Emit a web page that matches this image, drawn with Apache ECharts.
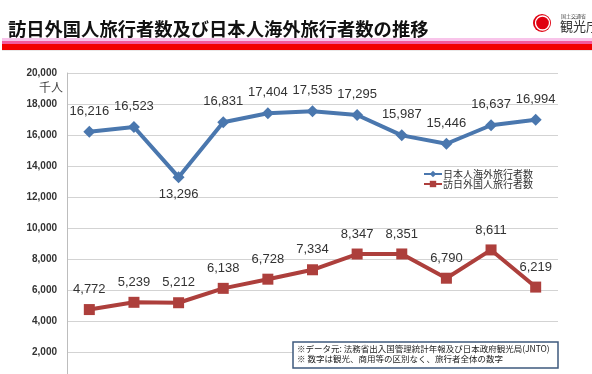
<!DOCTYPE html>
<html><head><meta charset="utf-8">
<script src="https://cdn.jsdelivr.net/npm/echarts@6/dist/echarts.min.js"></script>
<style>html,body{margin:0;padding:0;background:#fff;}#c{width:592px;height:374px;}</style>
</head><body><div id="c"></div>
<script>
var titleText = '訪日外国人旅行者数及び日本人海外旅行者数の推移';
var years = ['2001','2002','2003','2004','2005','2006','2007','2008','2009','2010','2011'];
var outboundName = '日本人海外旅行者数';
var inboundName = '訪日外国人旅行者数';
var outbound = [16216, 16523, 13296, 16831, 17404, 17535, 17295, 15987, 15446, 16637, 16994];
var inbound = [4772, 5239, 5212, 6138, 6728, 7334, 8347, 8351, 6790, 8611, 6219];
var unitText = '千人';
var noteLines = ['※データ元: 法務省出入国管理統計年報及び日本政府観光局(JNTO)', '※ 数字は観光、商用等の区別なく、旅行者全体の数字'];

var CJK = '"Noto Sans CJK JP", "Liberation Sans", sans-serif';
var fmt = function (v) { return Number(v).toLocaleString('en-US'); };
var chart = echarts.init(document.getElementById('c'), null, {renderer: 'canvas'});
chart.setOption({
  animation: false,
  backgroundColor: '#fff',
  grid: {left: 67, top: 73, width: 491, height: 310.7, containLabel: false, outerBoundsMode: 'none'},
  legend: {
    orient: 'vertical', left: 418, top: 164, itemWidth: 18, itemHeight: 8, itemGap: 0,
    textStyle: {fontSize: 10, color: '#333', fontFamily: CJK, padding: [0,0,0,-4]},
    data: [outboundName, inboundName]
  },
  xAxis: {
    type: 'category', data: years, boundaryGap: true,
    axisLine: {show: false}, axisTick: {show: false}, axisLabel: {show: false}
  },
  yAxis: {
    type: 'value', min: 0, max: 20000, interval: 2000,
    axisLine: {show: true, lineStyle: {color: '#bdbdbd', width: 1}},
    axisTick: {show: false},
    splitLine: {lineStyle: {color: '#d3d3d3', width: 1}},
    axisLabel: {formatter: function (v) { return v === 0 ? '' : fmt(v); }, margin: 10, fontSize: 10, fontWeight: 'bold', color: '#333', fontFamily: '"Liberation Sans", sans-serif'}
  },
  series: [
    {
      name: outboundName, type: 'line',
      data: outbound.map(function (v, i) { return i === 2 ? {value: v, label: {position: 'bottom', distance: 5}} : v; }),
      symbol: 'diamond', symbolSize: 12,
      lineStyle: {width: 4, color: '#4a77ae'}, itemStyle: {color: '#4a77ae'},
      label: {show: true, position: 'top', distance: 8, formatter: function (p) { return fmt(p.value); }, fontSize: 13, color: '#333', fontFamily: '"Liberation Sans", sans-serif'}
    },
    {
      name: inboundName, type: 'line', data: inbound,
      symbol: 'rect', symbolSize: 11,
      lineStyle: {width: 4, color: '#ad3f3c'}, itemStyle: {color: '#ad3f3c'},
      label: {show: true, position: 'top', distance: 8, formatter: function (p) { return fmt(p.value); }, fontSize: 13, color: '#333', fontFamily: '"Liberation Sans", sans-serif'}
    }
  ],
  graphic: [
    {type: 'text', left: 8, top: 20, style: {text: titleText, font: 'bold 18.3px "Noto Sans CJK JP"', fill: '#111'}},
    {type: 'rect', shape: {x: 2, y: 38, width: 590, height: 3}, style: {fill: '#f8c4ea'}},
    {type: 'rect', shape: {x: 2, y: 41, width: 590, height: 3}, style: {fill: '#f25a9c'}},
    {type: 'rect', shape: {x: 2, y: 44, width: 590, height: 6}, style: {fill: '#f20000'}},
    {type: 'rect', shape: {x: 2, y: 50, width: 590, height: 1}, style: {fill: '#e8e8e8'}},
    {type: 'circle', shape: {cx: 542, cy: 23, r: 9}, style: {fill: '#e00010'}},
    {type: 'circle', shape: {cx: 542.5, cy: 23, r: 7}, style: {fill: 'none', stroke: '#fff', lineWidth: 1.3}},
    {type: 'text', left: 561, top: 14, style: {text: '国土交通省', font: '5px "Noto Sans CJK JP"', fill: '#444'}},
    {type: 'text', left: 560, top: 20, style: {text: '観光庁', font: '13px "Noto Sans CJK JP"', fill: '#333'}},
    {type: 'text', left: 39, top: 81, style: {text: unitText, font: '12px "Noto Sans CJK JP"', fill: '#444'}},
    {type: 'rect', shape: {x: 293, y: 342, width: 265, height: 26}, style: {fill: '#fff', stroke: '#3e5a7e', lineWidth: 1.5}, z: 10},
    {type: 'text', left: 297, top: 345, z: 11, style: {text: noteLines[0], font: '8.5px "Noto Sans CJK JP"', fill: '#222'}},
    {type: 'text', left: 297, top: 355, z: 11, style: {text: noteLines[1], font: '8.5px "Noto Sans CJK JP"', fill: '#222'}}
  ]
});
</script></body></html>
